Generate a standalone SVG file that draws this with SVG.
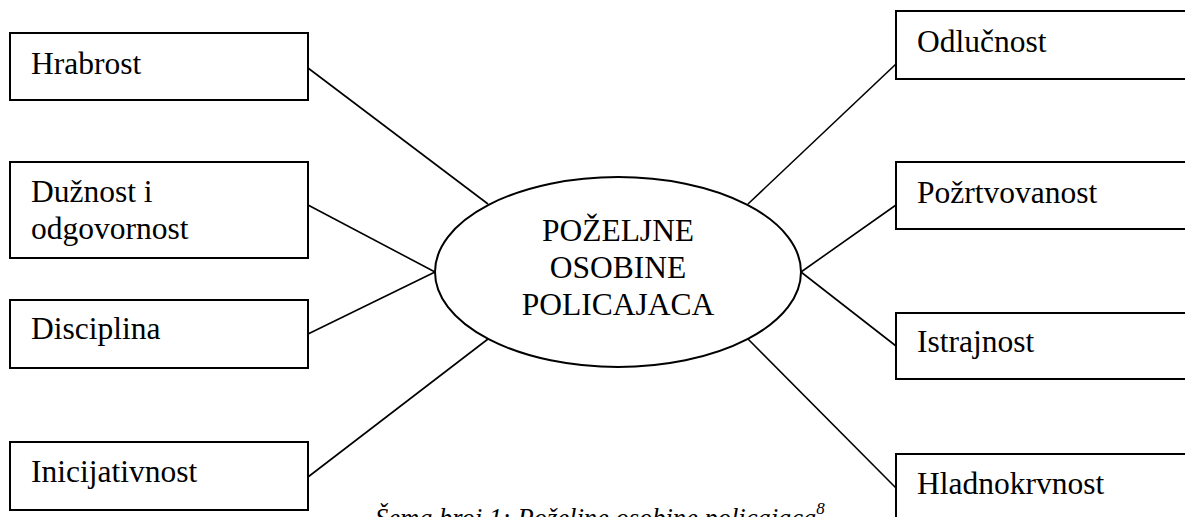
<svg xmlns="http://www.w3.org/2000/svg" width="1185" height="517" viewBox="0 0 1185 517">
<style>
.box{fill:#fff;stroke:#000;stroke-width:2}
.lbl{font-size:31.5px;fill:#000}
.ctr{text-anchor:middle}
.con line{stroke:#000;stroke-width:1.6}
.cap{font-size:26.5px;font-style:italic;fill:#000}
</style>
<rect width="1185" height="517" fill="#fff"/>
<g id="connectors" class="con">
<line x1="308" y1="68" x2="488" y2="204"/>
<line x1="308" y1="205" x2="435" y2="272"/>
<line x1="308" y1="334" x2="435" y2="272"/>
<line x1="308" y1="477" x2="488" y2="339"/>
<line x1="896" y1="64" x2="748" y2="204"/>
<line x1="896" y1="205" x2="801" y2="272"/>
<line x1="896" y1="346" x2="801" y2="272"/>
<line x1="896" y1="488" x2="748" y2="339"/>
</g>
<g font-family="'Liberation Serif', 'Times New Roman', 'DejaVu Serif', serif">
<g id="center">
<ellipse cx="618" cy="272" rx="183" ry="95" fill="#fff" stroke="#000" stroke-width="2"/>
<text class="lbl ctr" x="618" y="241">POŽELJNE</text>
<text class="lbl ctr" x="618" y="278">OSOBINE</text>
<text class="lbl ctr" x="618" y="315">POLICAJACA</text>
</g>
<g id="hrabrost"><rect class="box" x="10" y="33" width="298" height="67"/><text class="lbl" x="31" y="74">Hrabrost</text></g>
<g id="duznost"><rect class="box" x="10" y="162" width="298" height="96"/><text class="lbl" x="31" y="202">Dužnost i</text><text class="lbl" x="31" y="239">odgovornost</text></g>
<g id="disciplina"><rect class="box" x="10" y="300" width="298" height="68"/><text class="lbl" x="31" y="339">Disciplina</text></g>
<g id="inicijativnost"><rect class="box" x="10" y="442" width="298" height="68"/><text class="lbl" x="31" y="482">Inicijativnost</text></g>
<g id="odlucnost"><rect class="box" x="896" y="11" width="300" height="68"/><text class="lbl" x="917" y="52">Odlučnost</text></g>
<g id="pozrtvovanost"><rect class="box" x="896" y="162" width="300" height="67"/><text class="lbl" x="917" y="203">Požrtvovanost</text></g>
<g id="istrajnost"><rect class="box" x="896" y="313" width="300" height="66"/><text class="lbl" x="917" y="352">Istrajnost</text></g>
<g id="hladnokrvnost"><rect class="box" x="896" y="454" width="300" height="80"/><text class="lbl" x="917" y="494">Hladnokrvnost</text></g>
<text class="cap" x="375" y="527">Šema broj 1: Poželjne osobine policajaca<tspan font-size="17" dy="-13">8</tspan></text>
</g>
</svg>
